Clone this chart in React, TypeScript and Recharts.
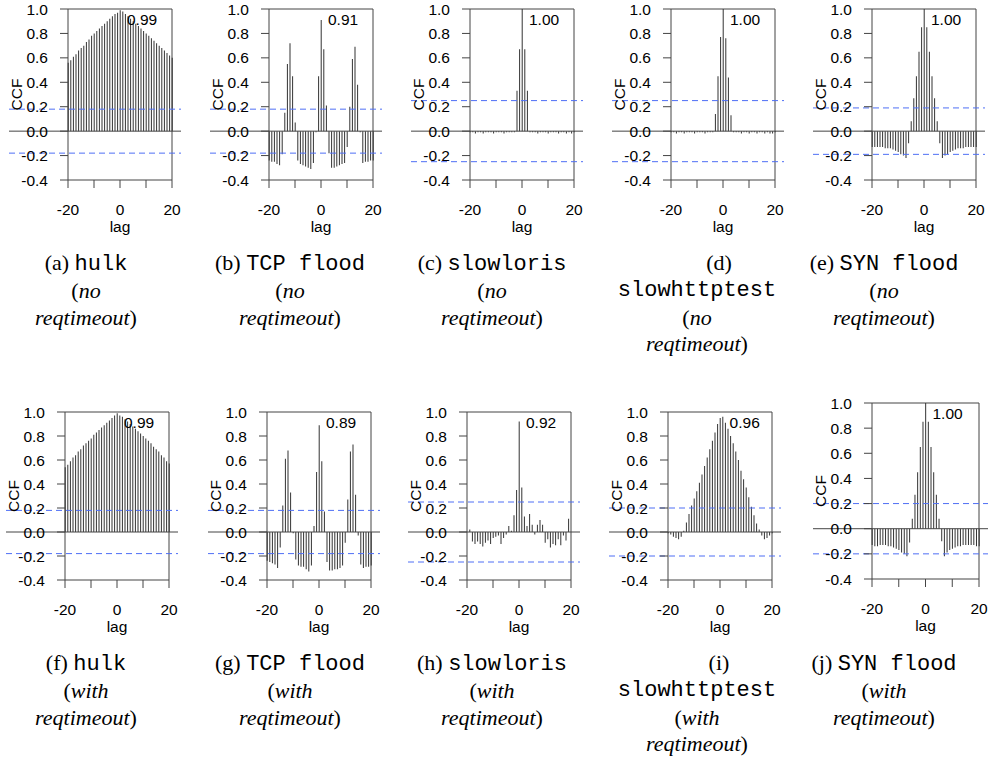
import React from 'react';
import { ComposedChart, Bar, XAxis, YAxis, ReferenceLine, ReferenceArea, ReferenceDot } from 'recharts';

// lags -20 .. 20
const LAGS = [
  -20, -19, -18, -17, -16, -15, -14, -13, -12, -11, -10, -9, -8, -7, -6, -5, -4, -3, -2, -1,
  0, 1, 2, 3, 4, 5, 6, 7, 8, 9, 10, 11, 12, 13, 14, 15, 16, 17, 18, 19, 20,
];
const X_TICKS = [-20, -10, 0, 10, 20];
const X_LABELLED = [-20, 0, 20]; // R drops the -10 / 10 labels, ticks stay
const Y_TICKS = [-0.4, -0.2, 0, 0.2, 0.4, 0.6, 0.8, 1.0];

// no reqtimeout
const HULK_NO = [
  0.56, 0.58, 0.61, 0.63, 0.66, 0.68, 0.70, 0.73, 0.75, 0.78, 0.80, 0.82, 0.84, 0.86, 0.88, 0.90, 0.92, 0.94, 0.96, 0.97,
  0.99, 0.98, 0.96, 0.94, 0.92, 0.90, 0.88, 0.86, 0.84, 0.82, 0.80, 0.78, 0.76, 0.74, 0.72, 0.70, 0.68, 0.66, 0.64, 0.62, 0.60,
];
const TCP_NO = [
  -0.24, -0.25, -0.25, -0.27, -0.28, -0.19, 0.15, 0.55, 0.72, 0.45, 0.07, -0.24, -0.27, -0.28, -0.29, -0.30, -0.31, -0.26, -0.01, 0.45,
  0.91, 0.67, 0.21, -0.18, -0.30, -0.30, -0.29, -0.28, -0.27, -0.26, -0.13, 0.20, 0.59, 0.69, 0.38, -0.01, -0.26, -0.25, -0.25, -0.24, -0.24,
];
const SLOWLORIS_NO = [
  -0.01, -0.01, -0.02, -0.01, -0.01, -0.02, -0.01, -0.01, -0.01, -0.02, -0.01, -0.01, -0.01, -0.02, -0.01, -0.01, -0.01, -0.01, 0.33, 0.67,
  1.00, 0.67, 0.33, -0.01, -0.01, -0.01, -0.02, -0.01, -0.01, -0.01, -0.02, -0.01, -0.01, -0.01, -0.02, -0.01, -0.01, -0.02, -0.01, -0.02, -0.01,
];
const SLOWHTTP_NO = [
  -0.01, -0.01, -0.02, -0.01, -0.01, -0.02, -0.01, -0.01, -0.01, -0.02, -0.01, -0.01, -0.01, -0.02, -0.01, -0.01, -0.01, 0.14, 0.45, 0.77,
  1.00, 0.76, 0.44, 0.13, -0.01, -0.01, -0.01, -0.02, -0.01, -0.01, -0.02, -0.01, -0.01, -0.02, -0.01, -0.01, -0.02, -0.01, -0.02, -0.02, -0.01,
];
const SYN_NO = [
  -0.13, -0.13, -0.13, -0.13, -0.13, -0.14, -0.14, -0.14, -0.15, -0.16, -0.17, -0.19, -0.20, -0.22, -0.10, 0.08, 0.27, 0.45, 0.65, 0.85,
  1.00, 0.85, 0.65, 0.45, 0.27, 0.08, -0.10, -0.22, -0.20, -0.19, -0.17, -0.16, -0.15, -0.14, -0.14, -0.14, -0.13, -0.13, -0.13, -0.13, -0.13,
];

// with reqtimeout
const HULK_WITH = [
  0.54, 0.56, 0.59, 0.62, 0.64, 0.67, 0.69, 0.72, 0.74, 0.76, 0.78, 0.81, 0.83, 0.85, 0.87, 0.89, 0.91, 0.93, 0.95, 0.97,
  0.99, 0.97, 0.96, 0.94, 0.92, 0.90, 0.88, 0.86, 0.84, 0.82, 0.80, 0.78, 0.76, 0.74, 0.71, 0.69, 0.67, 0.64, 0.62, 0.59, 0.57,
];
const TCP_WITH = [
  -0.24, -0.25, -0.26, -0.27, -0.30, -0.13, 0.22, 0.61, 0.68, 0.33, -0.01, -0.23, -0.28, -0.29, -0.29, -0.31, -0.33, -0.28, 0.05, 0.50,
  0.89, 0.59, 0.17, -0.25, -0.32, -0.32, -0.31, -0.31, -0.30, -0.28, -0.09, 0.27, 0.67, 0.73, 0.31, -0.03, -0.27, -0.30, -0.29, -0.29, -0.28,
];
const SLOWLORIS_WITH = [
  0.00, 0.02, -0.08, -0.10, -0.08, -0.10, -0.12, -0.09, -0.07, -0.10, -0.05, -0.04, -0.03, -0.10, -0.05, -0.02, 0.05, 0.01, 0.14, 0.35,
  0.92, 0.37, 0.13, 0.05, 0.15, 0.06, -0.02, 0.06, 0.10, 0.06, -0.09, -0.06, -0.13, -0.10, -0.11, -0.06, -0.11, -0.03, -0.07, 0.11, 0.00,
];
const SLOWHTTP_WITH = [
  -0.01, -0.02, -0.04, -0.05, -0.06, -0.04, 0.01, 0.08, 0.15, 0.22, 0.28, 0.34, 0.41, 0.48, 0.55, 0.62, 0.69, 0.76, 0.83, 0.90,
  0.95, 0.96, 0.91, 0.86, 0.80, 0.74, 0.67, 0.60, 0.51, 0.44, 0.37, 0.29, 0.21, 0.14, 0.07, 0.02, -0.03, -0.06, -0.05, -0.03, -0.01,
];
const SYN_WITH = [
  -0.13, -0.14, -0.14, -0.13, -0.13, -0.13, -0.14, -0.14, -0.15, -0.16, -0.17, -0.19, -0.20, -0.22, -0.11, 0.08, 0.27, 0.45, 0.65, 0.85,
  1.00, 0.85, 0.65, 0.45, 0.27, 0.08, -0.10, -0.22, -0.19, -0.17, -0.16, -0.15, -0.14, -0.14, -0.13, -0.13, -0.13, -0.13, -0.13, -0.14, -0.14,
];

const CI_NO = [0.18, 0.18, 0.25, 0.25, 0.19];
const CI_WITH = [0.18, 0.18, 0.25, 0.2, 0.2];

const NAMES = ['hulk', 'TCP flood', 'slowloris', 'slowhttptest', 'SYN flood'];
const LETTERS_NO = ['a', 'b', 'c', 'd', 'e'];
const LETTERS_WITH = ['f', 'g', 'h', 'i', 'j'];

const X_DOMAIN: [number, number] = [-20, 20];
const Y_DOMAIN: [number, number] = [-0.4, 1.0];

const SANS = '"Liberation Sans", Arial, Helvetica, sans-serif';
const ROMAN = '"Liberation Serif", "Times New Roman", serif';
const MONO = '"Liberation Mono", "Courier New", monospace';
const INK = '#000';
const AXIS = '#444';
const BLUE = '#4f6ff5';
const FS = 15.5;

const ML = 68;
const MR = 12;
const MT = 10;
const MB = 34;
const YAXIS_W = 58;
const XAXIS_H = 30;
const EXT_LEFT = 59;
const EXT_RIGHT = 9;

type Box = { left: number; top: number; width: number; height: number };

const TICK = { fontSize: FS, fill: INK, fontFamily: SANS };

function CcfPanel({ values, ci, box }: { values: number[]; ci: number; box: Box }) {
  const data = LAGS.map((lag, i) => ({ lag, ccf: values[i] }));
  const peak = Math.max(...values);
  const peakLag = LAGS[values.indexOf(peak)];
  const lagPerPx = (X_DOMAIN[1] - X_DOMAIN[0]) / box.width;
  const from = X_DOMAIN[0] - EXT_LEFT * lagPerPx;
  const to = X_DOMAIN[1] + EXT_RIGHT * lagPerPx;
  const width = ML + box.width + MR;
  const height = MT + box.height + XAXIS_H + MB;

  return (
    <div style={{ position: 'absolute', left: box.left - ML, top: box.top - MT }}>
      <ComposedChart
        width={width}
        height={height}
        data={data}
        margin={{ top: MT, right: MR, bottom: MB, left: ML - YAXIS_W }}
      >
        <XAxis
          dataKey="lag"
          type="number"
          domain={X_DOMAIN}
          ticks={X_TICKS}
          interval={0}
          height={XAXIS_H}
          axisLine={false}
          tickLine={{ stroke: AXIS }}
          tickSize={8}
          tickMargin={16}
          tick={TICK}
          tickFormatter={(v: number) => (X_LABELLED.includes(v) ? String(v) : '')}
          label={{ value: 'lag', position: 'bottom', offset: 11, fill: INK, fontSize: FS, fontFamily: SANS }}
        />
        <YAxis
          type="number"
          domain={Y_DOMAIN}
          ticks={Y_TICKS}
          interval={0}
          width={YAXIS_W}
          axisLine={false}
          tickLine={{ stroke: AXIS }}
          tickSize={8}
          tickMargin={12}
          tick={TICK}
          tickFormatter={(v: number) => v.toFixed(1)}
          label={{
            value: 'CCF',
            angle: -90,
            position: 'insideLeft',
            offset: YAXIS_W - 52,
            fill: INK,
            fontSize: FS,
            fontFamily: SANS,
            style: { textAnchor: 'middle' },
          }}
        />
        <ReferenceArea x1={X_DOMAIN[0]} x2={X_DOMAIN[1]} y1={Y_DOMAIN[0]} y2={Y_DOMAIN[1]} fill="none" fillOpacity={0} stroke={AXIS} strokeOpacity={1} />
        <Bar dataKey="ccf" barSize={1} fill="#333" isAnimationActive={false} />
        <ReferenceLine segment={[{ x: from, y: 0 }, { x: to, y: 0 }]} stroke={AXIS} ifOverflow="visible" />
        <ReferenceLine segment={[{ x: from, y: ci }, { x: to, y: ci }]} stroke={BLUE} strokeDasharray="6 4" ifOverflow="visible" />
        <ReferenceLine segment={[{ x: from, y: -ci }, { x: to, y: -ci }]} stroke={BLUE} strokeDasharray="6 4" ifOverflow="visible" />
        <ReferenceDot
          x={peakLag}
          y={Y_DOMAIN[1]}
          r={0}
          fill="none"
          stroke="none"
          label={{
            content: (p: any) => (
              <text x={p.viewBox.x + 7} y={p.viewBox.y + 16} fontSize={FS} fontFamily={SANS} fill={INK}>
                {peak.toFixed(2)}
              </text>
            ),
          }}
        />
      </ComposedChart>
    </div>
  );
}

function Caption({ cx, top, letter, name, cond }: { cx: number; top: number; letter: string; name: string; cond: string }) {
  const wrap = name.length > 10;
  const mono = <span style={{ fontFamily: MONO }}>{name}</span>;
  return (
    <div
      style={{
        position: 'absolute',
        left: cx - 110,
        top,
        width: 220,
        textAlign: 'center',
        fontFamily: ROMAN,
        fontSize: 22,
        lineHeight: '26.3px',
        color: INK,
      }}
    >
      {wrap ? (
        <>
          <div style={{ position: 'relative', left: 22 }}>({letter})</div>
          <div>{mono}</div>
        </>
      ) : (
        <div>
          ({letter}) {mono}
        </div>
      )}
      <div>
        (<i>{cond}</i>
      </div>
      <div>
        <i>reqtimeout</i>)
      </div>
    </div>
  );
}

const TOP_LEFTS = [68, 269, 470, 671, 872];
const BOTTOM_LEFTS = [65, 267, 467, 668, 872];
const CAPTION_X = [86, 290, 492, 697, 884];

export default function App() {
  const topValues = [HULK_NO, TCP_NO, SLOWLORIS_NO, SLOWHTTP_NO, SYN_NO];
  const bottomValues = [HULK_WITH, TCP_WITH, SLOWLORIS_WITH, SLOWHTTP_WITH, SYN_WITH];
  return (
    <div style={{ position: 'absolute', left: 0, top: 0, width: 990, height: 769, background: '#fff', overflow: 'hidden' }}>
      {topValues.map((v, i) => (
        <CcfPanel key={'t' + i} values={v} ci={CI_NO[i]} box={{ left: TOP_LEFTS[i], top: 9, width: 104, height: 171 }} />
      ))}
      {bottomValues.map((v, i) => (
        <CcfPanel
          key={'b' + i}
          values={v}
          ci={CI_WITH[i]}
          box={i === 4 ? { left: BOTTOM_LEFTS[i], top: 403, width: 107, height: 176 } : { left: BOTTOM_LEFTS[i], top: 412, width: 104, height: 168 }}
        />
      ))}
      {NAMES.map((n, i) => (
        <Caption key={'ct' + i} cx={CAPTION_X[i]} top={250} letter={LETTERS_NO[i]} name={n} cond="no" />
      ))}
      {NAMES.map((n, i) => (
        <Caption key={'cb' + i} cx={CAPTION_X[i]} top={650} letter={LETTERS_WITH[i]} name={n} cond="with" />
      ))}
    </div>
  );
}
